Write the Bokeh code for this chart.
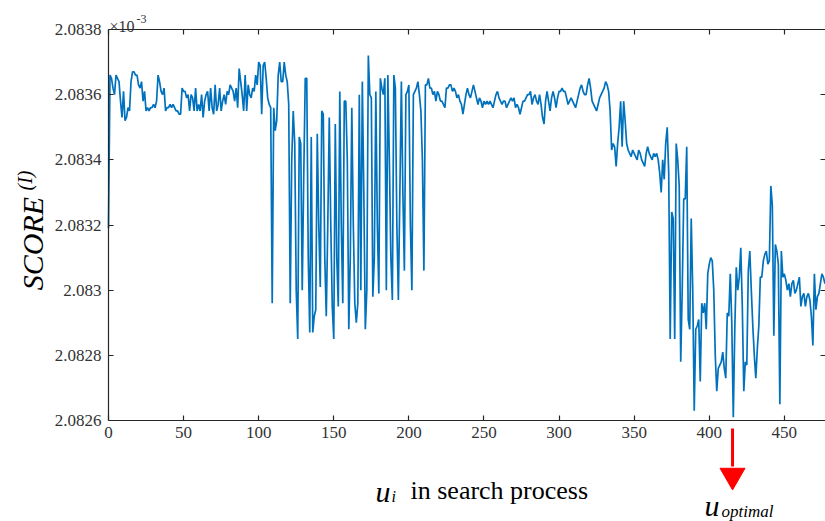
import math
from bokeh.plotting import figure
from bokeh.models import (LinearAxis, FixedTicker, CustomJSTickFormatter, Label, Range1d)
from bokeh.embed import file_html
from bokeh.resources import INLINE

# ---------------- data (SCORE values, in units of 1e-3) ----------------
seg_a = [2.08319, 2.08366, 2.08365, 2.08362, 2.08360, 2.08366, 2.08365, 2.08364, 2.08358, 2.08353,
         2.08361, 2.08352, 2.08353, 2.08356, 2.08355, 2.08364, 2.08367, 2.08367, 2.08366, 2.08366,
         2.08363, 2.08362, 2.08364, 2.08358, 2.08361, 2.08355, 2.08356, 2.08355, 2.08356, 2.08356,
         2.08357, 2.08356, 2.08358, 2.08366, 2.08364, 2.08361, 2.08360, 2.08362, 2.08355, 2.08356,
         2.08356, 2.08357, 2.08356, 2.08357, 2.08356, 2.08355, 2.08355, 2.08354, 2.08354, 2.08362,
         2.08361, 2.08361, 2.08359, 2.08360, 2.08355, 2.08360, 2.08359, 2.08355, 2.08362, 2.08355,
         2.08357, 2.08355, 2.08360, 2.08353, 2.08358, 2.08360, 2.08361, 2.08355, 2.08362, 2.08356,
         2.08354, 2.08363, 2.08355, 2.08357, 2.08362, 2.08355, 2.08358, 2.08360, 2.08357, 2.08361,
         2.08360, 2.08363, 2.08362, 2.08361, 2.08358, 2.08362, 2.08356, 2.08368, 2.08364, 2.08360,
         2.08355, 2.08366, 2.08355, 2.08363, 2.08360, 2.08359, 2.08362, 2.08361, 2.08366, 2.08363,
         2.08370, 2.08369, 2.08354, 2.08369, 2.08370, 2.08365, 2.08359, 2.08357, 2.08356]

seg_b = [2.08296, 2.08356, 2.08349, 2.08352, 2.08366, 2.08370, 2.08364, 2.08364, 2.08370, 2.08366,
         2.08364, 2.08357, 2.08296, 2.08340, 2.08355, 2.08345, 2.08300, 2.08285, 2.08347, 2.08345,
         2.08300, 2.08335, 2.08365, 2.08365, 2.08310, 2.08287, 2.08347, 2.08287, 2.08292, 2.08294,
         2.08348, 2.08320, 2.08301, 2.08355, 2.08354, 2.08310, 2.08292, 2.08320, 2.08353, 2.08320,
         2.08295, 2.08285, 2.08351, 2.08310, 2.08295, 2.08361, 2.08320, 2.08296, 2.08358, 2.08358,
         2.08340, 2.08288, 2.08310, 2.08356, 2.08320, 2.08296, 2.08290, 2.08296, 2.08360, 2.08300,
         2.08364, 2.08330, 2.08288, 2.08300, 2.08372, 2.08360, 2.08359, 2.08298, 2.08310, 2.08361,
         2.08320, 2.08299, 2.08365, 2.08362, 2.08360, 2.08365, 2.08300, 2.08366, 2.08340, 2.08310,
         2.08297, 2.08366, 2.08362, 2.08320, 2.08297, 2.08330, 2.08364, 2.08330, 2.08306, 2.08360,
         2.08361, 2.08363, 2.08320, 2.08300, 2.08360, 2.08361, 2.08362, 2.08364, 2.08360, 2.08355,
         2.08340, 2.08306, 2.08363, 2.08363, 2.08365]

seg_c = [2.08362, 2.08362, 2.08360, 2.08361, 2.08358, 2.08361, 2.08360, 2.08358, 2.08358, 2.08357,
         2.08356, 2.08362, 2.08362, 2.08363, 2.08363, 2.08361, 2.08362, 2.08361, 2.08359, 2.08360,
         2.08358, 2.08357, 2.08354, 2.08357, 2.08360, 2.08362, 2.08360, 2.08359, 2.08361, 2.08363,
         2.08361, 2.08359, 2.08357, 2.08359, 2.08358, 2.08356, 2.08358, 2.08357, 2.08358, 2.08357,
         2.08358, 2.08357, 2.08356, 2.08358, 2.08360, 2.08361, 2.08359, 2.08358, 2.08357, 2.08358,
         2.08358, 2.08356, 2.08357, 2.08358, 2.08359, 2.08358, 2.08359, 2.08356, 2.08357, 2.08356,
         2.08354, 2.08356, 2.08358, 2.08358, 2.08359, 2.08360, 2.08360, 2.08361, 2.08357, 2.08359,
         2.08360, 2.08358, 2.08357, 2.08360, 2.08357, 2.08353, 2.08351, 2.08358, 2.08361, 2.08358,
         2.08355, 2.08359, 2.08361, 2.08359, 2.08356, 2.08359, 2.08361, 2.08361, 2.08362, 2.08361,
         2.08361, 2.08359, 2.08357, 2.08358, 2.08359, 2.08358, 2.08357, 2.08356, 2.08358, 2.08360,
         2.08362, 2.08363, 2.08361, 2.08360, 2.08360, 2.08363, 2.08365, 2.08362, 2.08358, 2.08357,
         2.08356, 2.08355, 2.08357, 2.08359, 2.08360, 2.08361, 2.08362, 2.08364, 2.08363, 2.08361]

seg_d = [2.08355, 2.08343, 2.08345, 2.08344, 2.08338, 2.08345, 2.08350, 2.08358, 2.08344, 2.08358,
         2.08352, 2.08345, 2.08343, 2.08342, 2.08341, 2.08343, 2.08342, 2.08341, 2.08340, 2.08343,
         2.08342, 2.08340, 2.08339, 2.08338, 2.08342, 2.08344, 2.08342, 2.08341, 2.08340, 2.08342,
         2.08341, 2.08342, 2.08340, 2.08336, 2.08330, 2.08340, 2.08334, 2.08345, 2.08350, 2.08336]

seg_e = [2.08285, 2.08324, 2.08322, 2.08285, 2.08345, 2.08340, 2.08332, 2.08278, 2.08300, 2.08328,
         2.08328, 2.08344, 2.08291, 2.08288, 2.08322, 2.08300, 2.08263, 2.08288, 2.08289, 2.08291,
         2.08272, 2.08296, 2.08293, 2.08296, 2.08288, 2.08305, 2.08308, 2.08310, 2.08309, 2.08300,
         2.08280, 2.08269, 2.08276, 2.08277, 2.08278, 2.08281, 2.08276, 2.08273, 2.08293, 2.08292,
         2.08305, 2.08290, 2.08261, 2.08288, 2.08307, 2.08300, 2.08304, 2.08313, 2.08295, 2.08269,
         2.08278, 2.08277, 2.08306, 2.08312, 2.08300, 2.08289, 2.08280, 2.08273, 2.08282, 2.08289,
         2.08304, 2.08304, 2.08309, 2.08311, 2.08312, 2.08308, 2.08309, 2.08332, 2.08326, 2.08286,
         2.08314, 2.08312, 2.08308, 2.08265, 2.08312, 2.08304, 2.08305, 2.08303, 2.08300, 2.08302,
         2.08298, 2.08302, 2.08303, 2.08299, 2.08300, 2.08302, 2.08304, 2.08295, 2.08298, 2.08299,
         2.08295, 2.08298, 2.08299, 2.08297, 2.08292, 2.08283, 2.08305, 2.08294, 2.08298, 2.08299,
         2.08302, 2.08305, 2.08304, 2.08302]

x_ticks = [0, 50, 100, 150, 200, 250, 300, 350, 400, 450]
y_ticks = [2.0826, 2.0828, 2.0830, 2.0832, 2.0834, 2.0836, 2.0838]
u_optimal = 415.5

score = seg_a + seg_b + seg_c + seg_d + seg_e
u_idx = list(range(len(score)))

# ---------------- geometry ----------------
W, H = 825, 521
FL, FT, FB = 108, 29, 420          # axes box left / top / bottom on the page
X0, X_END = 0.0, 477.4
Y0, Y1 = 2.0826, 2.0838
PXX = (W - FL) / (X_END - X0)      # px per x unit
PXY = (FB - FT) / (Y1 - Y0)        # px per y unit

def dx(px):
    return X0 + (px - FL) / PXX

def dy(py):
    return Y1 - (py - FT) / PXY

# the frame covers the whole canvas; axes are pinned at the data box edges
p = figure(width=W, height=H, output_backend="svg", toolbar_location=None,
           x_range=Range1d(dx(0), dx(W)), y_range=Range1d(dy(H), dy(0)),
           min_border=0, x_axis_location=None, y_axis_location=None)
p.grid.visible = False
p.outline_line_color = None
p.background_fill_color = "white"
p.border_fill_color = "white"

p.line(u_idx, score, line_color="#0072BD", line_width=1.7)

AX = "#262626"
FONT = "Liberation Serif, serif"

def style(ax, labels=True):
    ax.axis_line_color = AX
    ax.axis_line_width = 1.2
    ax.major_tick_line_color = AX
    ax.major_tick_line_width = 1.2
    ax.major_tick_in = 5
    ax.major_tick_out = 0
    ax.minor_tick_line_color = None
    ax.major_label_text_font = FONT
    ax.major_label_text_color = "#333333"
    ax.major_label_text_font_size = "17px"
    ax.major_label_standoff = 7 if labels else 0

left = LinearAxis(ticker=FixedTicker(ticks=y_ticks), fixed_location=X0, bounds=(Y0, Y1),
                  formatter=CustomJSTickFormatter(code="return (Math.round(tick*10000)/10000).toString();"))
style(left)
p.add_layout(left, "left")

bottom = LinearAxis(ticker=FixedTicker(ticks=x_ticks), fixed_location=Y0, bounds=(X0, X_END))
style(bottom)
bottom.major_label_standoff = 6
p.add_layout(bottom, "below")

blank = "return '';"
top = LinearAxis(ticker=FixedTicker(ticks=x_ticks), fixed_location=Y1, bounds=(X0, X_END),
                 formatter=CustomJSTickFormatter(code=blank))
style(top, labels=False)
p.add_layout(top, "above")

right = LinearAxis(ticker=FixedTicker(ticks=y_ticks), fixed_location=X_END, bounds=(Y0, Y1),
                   formatter=CustomJSTickFormatter(code=blank))
style(right, labels=False)
right.axis_line_color = None
p.add_layout(right, "right")

def lab(text, px, py, size, style_="normal", align="left", baseline="alphabetic",
        angle=0.0, color="#000000", font=FONT):
    p.add_layout(Label(x=dx(px), y=dy(py), text=text, text_font=font,
                       text_font_size=size, text_font_style=style_, text_align=align,
                       text_baseline=baseline, angle=angle, text_color=color))

# x10^-3 multiplier
lab("\u00d710", 109, 26, "16px", color="#333333")
lab("-3", 136, 18, "12px", color="#333333")

# y-axis label SCORE^(I)
lab("SCORE", 32, 243, "30px", "italic", align="center", baseline="middle", angle=math.pi / 2)
lab("(I)", 24, 180, "20px", "italic", align="center", baseline="middle", angle=math.pi / 2)

# x-axis label u_i in search process
lab("u", 375, 491, "30px", "italic")
lab("i", 391, 496, "16px", "italic")
lab("in search process", 410, 490, "26px")

# red arrow towards the optimal u (shaft + head)
p.segment(x0=[u_optimal], y0=[dy(428)], x1=[u_optimal], y1=[dy(466)],
          line_color="#ff0000", line_width=3)
p.scatter(x=[u_optimal], y=[dy(475)], marker="inverted_triangle", size=25,
          fill_color="#ff0000", line_color="#ff0000")
lab("u", 704, 505, "30px", "italic")
lab("optimal", 721, 511, "17px", "italic")

open("out.html", "w").write(file_html(p, INLINE))
